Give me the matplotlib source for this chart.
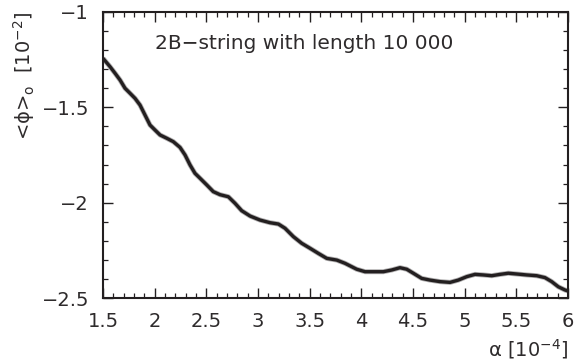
import matplotlib

matplotlib.use("Agg")
import matplotlib.pyplot as plt
from matplotlib.ticker import MultipleLocator, FuncFormatter

# curve (alpha in 1e-4, <phi>_0 in 1e-2)
alpha = [1.5, 1.568, 1.616, 1.665, 1.713, 1.761, 1.81, 1.858, 1.906, 1.955,
         2.003, 2.052, 2.116, 2.18, 2.245, 2.294, 2.342, 2.39, 2.439, 2.504,
         2.567, 2.632, 2.713, 2.777, 2.842, 2.923, 3.019, 3.116, 3.197, 3.261,
         3.342, 3.423, 3.503, 3.584, 3.665, 3.762, 3.842, 3.955, 4.036, 4.116,
         4.213, 4.294, 4.374, 4.439, 4.503, 4.584, 4.665, 4.761, 4.858, 4.938,
         5.02, 5.1, 5.18, 5.262, 5.342, 5.422, 5.504, 5.6, 5.697, 5.777,
         5.842, 5.906, 5.971, 6.0]
phi0 = [-1.243, -1.287, -1.321, -1.357, -1.4, -1.426, -1.453, -1.488, -1.54, -1.593,
        -1.619, -1.645, -1.662, -1.68, -1.71, -1.75, -1.802, -1.846, -1.872, -1.907,
        -1.942, -1.958, -1.969, -2.003, -2.042, -2.07, -2.091, -2.105, -2.112, -2.134,
        -2.178, -2.213, -2.239, -2.266, -2.292, -2.301, -2.318, -2.349, -2.362, -2.362,
        -2.362, -2.353, -2.341, -2.349, -2.37, -2.397, -2.406, -2.414, -2.418, -2.406,
        -2.388, -2.376, -2.379, -2.383, -2.376, -2.37, -2.374, -2.379, -2.383, -2.393,
        -2.414, -2.441, -2.458, -2.463]

title = "2B\u2212string with length 10 000"

plt.rcParams["font.family"] = ["DejaVu Sans"]
plt.rcParams["mathtext.fontset"] = "dejavusans"

ink = "#231f20"
txt = "#2e2b2c"
fig = plt.figure(figsize=(5.86, 3.63), dpi=100)
ax = fig.add_axes([0.1758, 0.179, 0.7935, 0.788])

# soft halo for the noisy band, then the core line
ax.plot(alpha, phi0, color=ink, lw=3.6, alpha=0.35, solid_capstyle="butt")
ax.plot(alpha, phi0, color=ink, lw=2.4, solid_capstyle="butt")

ax.set_xlim(1.5, 6)
ax.set_ylim(-2.5, -1)
ax.xaxis.set_major_locator(MultipleLocator(0.5))
ax.xaxis.set_minor_locator(MultipleLocator(0.1))
ax.yaxis.set_major_locator(MultipleLocator(0.5))
ax.yaxis.set_minor_locator(MultipleLocator(0.1))

fmt = FuncFormatter(lambda v, p: ("%g" % round(v, 3)).replace("-", "\u2212"))
ax.xaxis.set_major_formatter(fmt)
ax.yaxis.set_major_formatter(fmt)

ax.tick_params(which="both", direction="in", top=True, right=True,
               labelsize=14, color=ink, labelcolor=txt)
ax.tick_params(which="major", length=7.5, width=1.0, pad=10)
ax.tick_params(which="minor", length=3.8, width=0.9)

for s in ax.spines.values():
    s.set_linewidth(1.5)
    s.set_color(ink)

ax.text(0.112, 0.87, title, transform=ax.transAxes, fontsize=14.5,
        color=txt, ha="left", va="baseline")

ax.set_ylabel("<\u03d5>$_{\\mathrm{o}}$  [10$^{-2}$]", fontsize=14,
              loc="top", color=txt)
ax.yaxis.set_label_coords(-0.143, 1.0)
ax.set_xlabel("\u03b1 [10$^{-4}$]", fontsize=14, loc="right", color=txt)
ax.xaxis.set_label_coords(1.0, -0.135)

fig.savefig("out.png", dpi=100)
